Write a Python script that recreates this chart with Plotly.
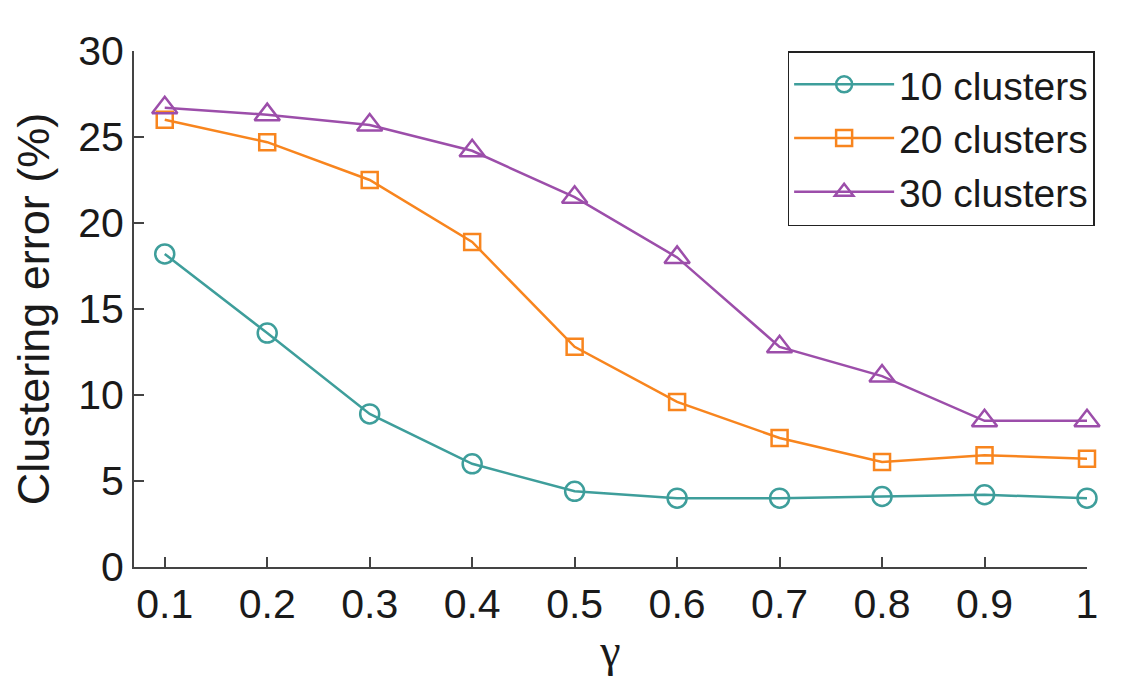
import plotly.graph_objects as go

gamma = [0.1, 0.2, 0.3, 0.4, 0.5, 0.6, 0.7, 0.8, 0.9, 1.0]
x_tick_labels = ["0.1", "0.2", "0.3", "0.4", "0.5", "0.6", "0.7", "0.8", "0.9", "1"]
y_ticks = [0, 5, 10, 15, 20, 25, 30]

err_10 = [18.2, 13.6, 8.9, 6.0, 4.4, 4.0, 4.0, 4.1, 4.2, 4.0]
err_20 = [26.0, 24.7, 22.5, 18.9, 12.8, 9.6, 7.5, 6.1, 6.5, 6.3]
err_30 = [26.7, 26.3, 25.7, 24.2, 21.5, 18.0, 12.8, 11.1, 8.5, 8.5]

series = [
    ("10 clusters", err_10, "#3E9E9B", "circle-open", 19),
    ("20 clusters", err_20, "#F8851E", "square-open", 16),
    ("30 clusters", err_30, "#9C4EAA", "triangle-up-open", 22),
]

fig = go.Figure()
for name, vals, color, sym, size in series:
    fig.add_trace(go.Scatter(
        x=gamma, y=vals, name=name, mode="lines+markers",
        line=dict(color=color, width=2.5),
        marker=dict(symbol=sym, size=size, color=color, line=dict(color=color, width=2.5)),
        cliponaxis=False,
    ))

font_family = "Liberation Sans, Arial, sans-serif"
fig.update_layout(
    width=1148, height=676, autosize=False,
    margin=dict(l=134, r=61, t=51, b=109),
    paper_bgcolor="white", plot_bgcolor="white",
    font=dict(family=font_family, size=40, color="#1a1a1a"),
    showlegend=True,
    legend=dict(
        x=1.008, y=1.0, xanchor="right", yanchor="top",
        bgcolor="white", bordercolor="#222222", borderwidth=1.5,
        font=dict(size=39, family=font_family, color="#1a1a1a"),
        tracegroupgap=0, itemwidth=100,
    ),
    xaxis=dict(
        range=[0.07, 1.0], tickvals=gamma, ticktext=x_tick_labels,
        showgrid=False, zeroline=False, showline=True, linecolor="#444444", linewidth=2,
        ticks="inside", ticklen=10, tickwidth=2, tickcolor="#444444",
        tickfont=dict(size=41),
        title=dict(text="γ", font=dict(size=46, family="Liberation Serif, DejaVu Serif, serif"), standoff=4),
    ),
    yaxis=dict(
        range=[0, 30], tickvals=y_ticks,
        showgrid=False, zeroline=False, showline=True, linecolor="#444444", linewidth=2,
        ticks="inside", ticklen=10, tickwidth=2, tickcolor="#444444",
        tickfont=dict(size=41),
        title=dict(text="Clustering error (%)", font=dict(size=45), standoff=14),
    ),
)

fig.write_html("out.html")
